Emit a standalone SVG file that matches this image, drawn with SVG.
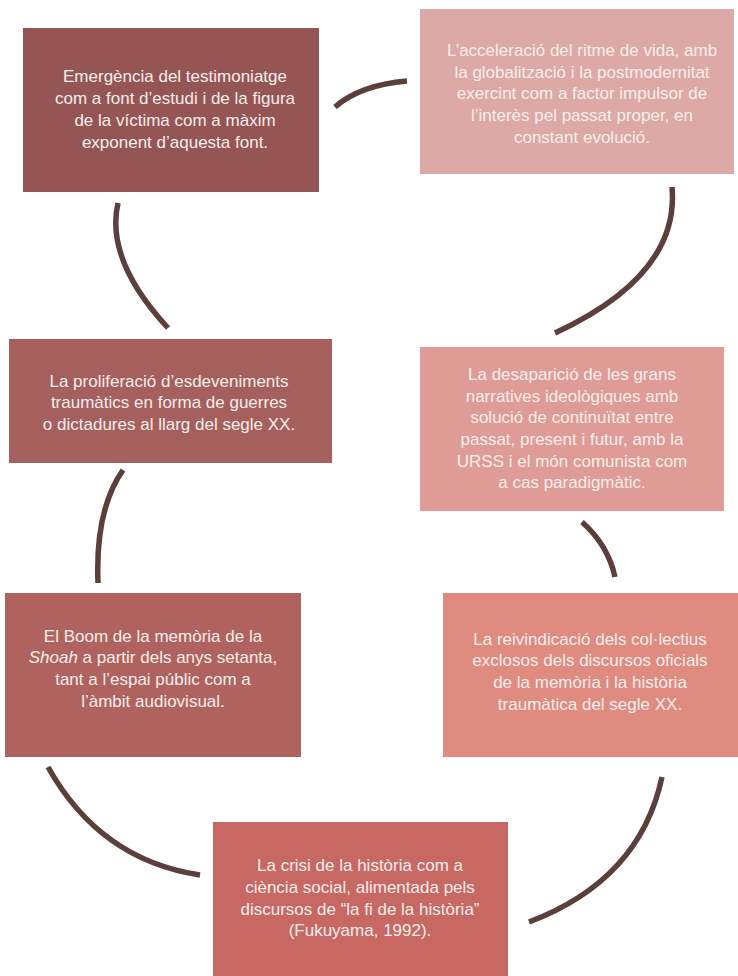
<svg xmlns="http://www.w3.org/2000/svg" width="738" height="976" viewBox="0 0 738 976">
<style>
.t{font-family:"Liberation Sans",Arial,sans-serif;font-size:17px;fill:#f8eeec;text-anchor:middle}
.c{fill:none;stroke:#5c3f3b;stroke-width:5.5}
</style>
<rect width="738" height="976" fill="#ffffff"/>
<g id="connectors">
<path class="c" d="M335,107 Q360,85 407,81"/>
<path class="c" d="M672,187 Q680,275 555,333"/>
<path class="c" d="M118,203 Q105,260 168,328"/>
<path class="c" d="M123,470 Q95,510 98,583"/>
<path class="c" d="M582,522 Q608,545 615,577"/>
<path class="c" d="M48,767 Q100,860 200,875"/>
<path class="c" d="M662,777 Q640,880 529,922"/>
</g>
<g id="n1">
<rect x="23" y="28" width="296" height="164" fill="#955554"/>
<text class="t" x="175" y="82">Emergència del testimoniatge</text>
<text class="t" x="175" y="104">com a font d’estudi i de la figura</text>
<text class="t" x="175" y="126">de la víctima com a màxim</text>
<text class="t" x="175" y="148">exponent d’aquesta font.</text>
</g>
<g id="n2">
<rect x="420" y="9" width="314" height="165" fill="#dca9a6"/>
<text class="t" x="582" y="56">L’acceleració del ritme de vida, amb</text>
<text class="t" x="582" y="78">la globalització i la postmodernitat</text>
<text class="t" x="582" y="99">exercint com a factor impulsor de</text>
<text class="t" x="582" y="121">l’interès pel passat proper, en</text>
<text class="t" x="582" y="143">constant evolució.</text>
</g>
<g id="n3">
<rect x="9" y="339" width="323" height="124" fill="#a55f5d"/>
<text class="t" x="169" y="387">La proliferació d’esdeveniments</text>
<text class="t" x="169" y="408">traumàtics en forma de guerres</text>
<text class="t" x="169" y="430">o dictadures al llarg del segle XX.</text>
</g>
<g id="n4">
<rect x="420" y="347" width="304" height="164" fill="#df9c96"/>
<text class="t" x="572" y="380">La desaparició de les grans</text>
<text class="t" x="572" y="402">narratives ideològiques amb</text>
<text class="t" x="572" y="423">solució de continuïtat entre</text>
<text class="t" x="572" y="445">passat, present i futur, amb la</text>
<text class="t" x="572" y="467">URSS i el món comunista com</text>
<text class="t" x="572" y="488">a cas paradigmàtic.</text>
</g>
<g id="n5">
<rect x="5" y="593" width="296" height="164" fill="#b0635e"/>
<text class="t" x="153" y="642">El Boom de la memòria de la</text>
<text class="t" x="153" y="663"><tspan font-style="italic">Shoah</tspan> a partir dels anys setanta,</text>
<text class="t" x="153" y="685">tant a l’espai públic com a</text>
<text class="t" x="153" y="707">l’àmbit audiovisual.</text>
</g>
<g id="n6">
<rect x="443" y="593" width="295" height="164" fill="#df8b80"/>
<text class="t" x="590" y="645">La reivindicació dels col·lectius</text>
<text class="t" x="590" y="666">exclosos dels discursos oficials</text>
<text class="t" x="590" y="688">de la memòria i la història</text>
<text class="t" x="590" y="710">traumàtica del segle XX.</text>
</g>
<g id="n7">
<rect x="213" y="822" width="295" height="154" fill="#c76863"/>
<text class="t" x="360" y="871">La crisi de la història com a</text>
<text class="t" x="360" y="893">ciència social, alimentada pels</text>
<text class="t" x="360" y="915">discursos de “la fi de la història”</text>
<text class="t" x="360" y="936">(Fukuyama, 1992).</text>
</g>
</svg>
